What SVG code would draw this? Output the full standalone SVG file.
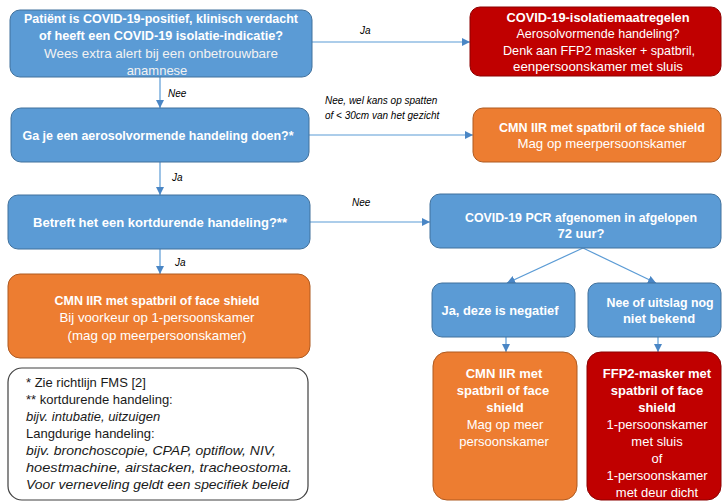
<svg xmlns="http://www.w3.org/2000/svg" width="723" height="503" viewBox="0 0 723 503">
<defs>
<marker id="ah" viewBox="0 0 8 8" refX="8" refY="4" markerWidth="8" markerHeight="8" markerUnits="userSpaceOnUse" orient="auto">
<path d="M0,0 L8,4 L0,8 Z" fill="#4a86c5"/>
</marker>
<style>
.blue{fill:#5b9bd5;stroke:#41719c;stroke-width:1}
.orange{fill:#ed7d31;stroke:#ae5a21;stroke-width:1}
.red{fill:#c00000;stroke:#8c0000;stroke-width:1}
.note{fill:#ffffff;stroke:#404040;stroke-width:1.2}
text{font-family:"Liberation Sans",Arial,sans-serif;font-size:13px}
.t{fill:#ffffff;text-anchor:middle}
.b{font-weight:bold}
.r{fill:#f2f2f2}
.lbl{font-size:10px;font-style:italic;fill:#000}
.n{fill:#1a1a1a}
.i{font-style:italic}
.con line,.con path{stroke:#5b9bd5;stroke-width:1.2;fill:none;marker-end:url(#ah)}
</style>
</defs>

<g id="connectors" class="con">
<line x1="312" y1="42" x2="470" y2="42"/>
<line x1="160" y1="77" x2="160" y2="108"/>
<line x1="309" y1="135" x2="473" y2="135"/>
<line x1="160" y1="162" x2="160" y2="195"/>
<line x1="310" y1="222" x2="430" y2="222"/>
<line x1="160" y1="249" x2="160" y2="274"/>
<line x1="583" y1="248" x2="507" y2="283"/>
<line x1="583" y1="248" x2="656" y2="283"/>
<line x1="506" y1="337" x2="506" y2="352"/>
<line x1="658" y1="337" x2="658" y2="352"/>
</g>

<g id="labels">
<text class="lbl" x="360" y="34">Ja</text>
<text class="lbl" x="168" y="97">Nee</text>
<text class="lbl" x="325" y="104">Nee, wel kans op spatten</text>
<text class="lbl" x="325" y="119">of &lt; 30cm van  het gezicht</text>
<text class="lbl" x="172" y="181">Ja</text>
<text class="lbl" x="352" y="206">Nee</text>
<text class="lbl" x="175" y="266">Ja</text>
</g>

<g id="n1">
<rect class="blue" x="10" y="10" width="302" height="67" rx="10"/>
<text class="t b" x="161" y="23" textLength="274" lengthAdjust="spacingAndGlyphs">Patiënt is COVID-19-positief, klinisch verdacht</text>
<text class="t b" x="161" y="40" textLength="244" lengthAdjust="spacingAndGlyphs">of heeft een COVID-19 isolatie-indicatie?</text>
<text class="t r" x="161" y="58" textLength="234" lengthAdjust="spacingAndGlyphs">Wees extra alert bij een onbetrouwbare</text>
<text class="t r" x="157" y="75">anamnese</text>
</g>

<g id="n2">
<rect class="red" x="470" y="7" width="251" height="69" rx="10"/>
<text class="t b" x="598" y="22" textLength="183" lengthAdjust="spacingAndGlyphs">COVID-19-isolatiemaatregelen</text>
<text class="t" x="598" y="38" textLength="163" lengthAdjust="spacingAndGlyphs">Aerosolvormende handeling?</text>
<text class="t" x="599" y="55" textLength="192" lengthAdjust="spacingAndGlyphs">Denk aan FFP2 masker + spatbril,</text>
<text class="t" x="598" y="71" textLength="170" lengthAdjust="spacingAndGlyphs">eenpersoonskamer met sluis</text>
</g>

<g id="n3">
<rect class="blue" x="11" y="108" width="298" height="54" rx="10"/>
<text class="t b" x="158" y="140" textLength="271" lengthAdjust="spacingAndGlyphs">Ga je een aerosolvormende handeling doen?*</text>
</g>

<g id="n4">
<rect class="orange" x="473" y="108" width="248" height="54" rx="10"/>
<text class="t b" x="602" y="132" textLength="206" lengthAdjust="spacingAndGlyphs">CMN IIR met spatbril of face shield</text>
<text class="t" x="602" y="148" textLength="169" lengthAdjust="spacingAndGlyphs">Mag op meerpersoonskamer</text>
</g>

<g id="n5">
<rect class="blue" x="8" y="195" width="302" height="54" rx="10"/>
<text class="t b" x="160" y="227" textLength="254" lengthAdjust="spacingAndGlyphs">Betreft het een kortdurende handeling?**</text>
</g>

<g id="n6">
<rect class="orange" x="8" y="274" width="302" height="84" rx="12"/>
<text class="t b" x="157" y="305" textLength="205" lengthAdjust="spacingAndGlyphs">CMN IIR met spatbril of face shield</text>
<text class="t" x="157" y="322" textLength="195" lengthAdjust="spacingAndGlyphs">Bij voorkeur op 1-persoonskamer</text>
<text class="t" x="157" y="340" textLength="179" lengthAdjust="spacingAndGlyphs">(mag op meerpersoonskamer)</text>
</g>

<g id="n7">
<rect class="blue" x="430" y="194" width="291" height="54" rx="10"/>
<text class="t b" x="581" y="222" textLength="232" lengthAdjust="spacingAndGlyphs">COVID-19 PCR afgenomen in afgelopen</text>
<text class="t b" x="581" y="238">72 uur?</text>
</g>

<g id="n8">
<rect class="blue" x="432" y="283" width="143" height="54" rx="10"/>
<text class="t b" x="500" y="315" textLength="117" lengthAdjust="spacingAndGlyphs">Ja, deze is negatief</text>
</g>

<g id="n9">
<rect class="blue" x="588" y="283" width="133" height="54" rx="10"/>
<text class="t b" x="660" y="307" textLength="107" lengthAdjust="spacingAndGlyphs">Nee of uitslag nog</text>
<text class="t b" x="659" y="323">niet bekend</text>
</g>

<g id="n10">
<rect class="orange" x="433" y="352" width="144" height="148" rx="14"/>
<text class="t b" x="504" y="378">CMN IIR met</text>
<text class="t b" x="503" y="395">spatbril of face</text>
<text class="t b" x="505" y="412">shield</text>
<text class="t" x="505" y="429">Mag op meer</text>
<text class="t" x="504" y="446">persoonskamer</text>
</g>

<g id="n11">
<rect class="red" x="587" y="352" width="134" height="148" rx="14"/>
<text class="t b" x="657" y="378">FFP2-masker met</text>
<text class="t b" x="657" y="395">spatbril of face</text>
<text class="t b" x="657" y="412">shield</text>
<text class="t" x="657" y="429">1-persoonskamer</text>
<text class="t" x="657" y="446">met sluis</text>
<text class="t" x="657" y="463">of</text>
<text class="t" x="657" y="480">1-persoonskamer</text>
<text class="t" x="657" y="497">met deur dicht</text>
</g>

<g id="n12">
<rect class="note" x="8" y="368" width="300" height="132" rx="14"/>
<text class="n" x="26" y="387">* Zie richtlijn FMS [2]</text>
<text class="n" x="26" y="404">** kortdurende handeling:</text>
<text class="n i" x="26" y="421">bijv. intubatie, uitzuigen</text>
<text class="n" x="26" y="438">Langdurige handeling:</text>
<text class="n i" x="26" y="455" textLength="250" lengthAdjust="spacingAndGlyphs">bijv. bronchoscopie, CPAP, optiflow, NIV,</text>
<text class="n i" x="26" y="472" textLength="266" lengthAdjust="spacingAndGlyphs">hoestmachine, airstacken, tracheostoma.</text>
<text class="n i" x="26" y="489" textLength="263" lengthAdjust="spacingAndGlyphs">Voor verneveling geldt een specifiek beleid</text>
</g>
</svg>
